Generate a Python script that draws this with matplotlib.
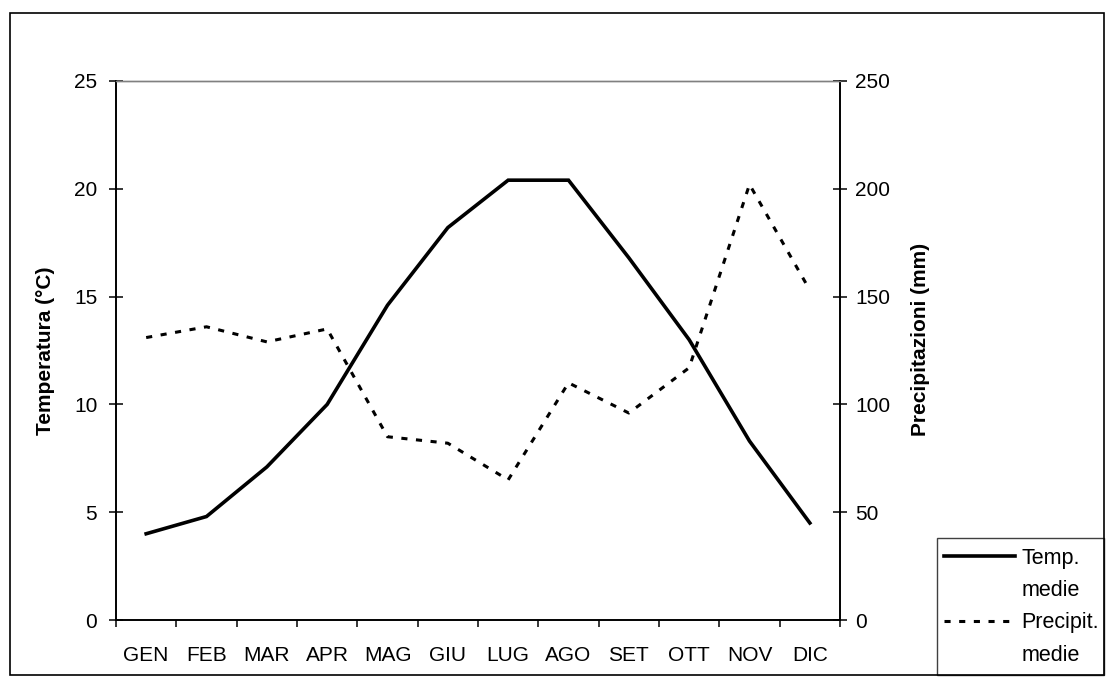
import matplotlib.pyplot as plt
from matplotlib.lines import Line2D
from matplotlib.patches import Rectangle

plt.rcParams['font.family'] = ['Liberation Sans', 'DejaVu Sans']

mesi = ['GEN', 'FEB', 'MAR', 'APR', 'MAG', 'GIU', 'LUG', 'AGO', 'SET', 'OTT', 'NOV', 'DIC']
temp = [4.0, 4.8, 7.1, 10.0, 14.6, 18.2, 20.4, 20.4, 16.8, 13.0, 8.3, 4.5]
prec = [131, 136, 129, 135, 85, 82, 65, 110, 96, 117, 202, 153]

W, H = 1110, 680
FS = 15
fig = plt.figure(figsize=(W / 100, H / 100), dpi=100)
# area del grafico in pixel: x 116-840, y 81-620
ax = fig.add_axes([116 / W, 1 - 620 / H, (840 - 116) / W, (620 - 81) / H])
ax2 = ax.twinx()

x = list(range(len(mesi)))
l1, = ax.plot(x, temp, color='black', lw=2.6, solid_joinstyle='miter')
l2, = ax2.plot(x, prec, color='black', lw=2.2, linestyle=(0, (2, 2.8)))

ax.set_xlim(-0.5, 11.5)
ax.set_ylim(0, 25)
ax2.set_ylim(0, 250)
ax.set_yticks(range(0, 26, 5))
ax2.set_yticks(range(0, 251, 50))

# tacche tra i mesi, etichette al centro
ax.set_xticks([i - 0.5 for i in range(13)])
ax.set_xticklabels([])
ax.set_xticks(x, minor=True)
ax.set_xticklabels(mesi, minor=True)
ax.tick_params(axis='x', which='minor', length=0, pad=19, labelsize=FS)
ax.tick_params(axis='x', which='major', direction='out', length=5, width=1.1)
ax.tick_params(axis='y', direction='inout', length=10, width=1.1, labelsize=FS, pad=8.5)
ax2.tick_params(axis='y', direction='inout', length=10, width=1.1, labelsize=FS, pad=6)

for a in (ax, ax2):
    a.spines['top'].set_color('#808080')
    a.spines['top'].set_linewidth(1.0)
    for s in ('left', 'right', 'bottom'):
        a.spines[s].set_linewidth(1.2)

ax.set_ylabel('Temperatura (°C)', fontsize=FS, fontweight='bold')
ax2.set_ylabel('Precipitazioni (mm)', fontsize=FS, fontweight='bold')
ax.yaxis.set_label_coords((46 - 116) / (840 - 116), 0.5)
ax2.yaxis.set_label_coords((921 - 116) / (840 - 116), 0.52)
ax.yaxis.label.set_va('center')
ax2.yaxis.label.set_va('center')

# legenda: una voce per riga, la linea accanto alla prima riga
vuoto = Line2D([], [], color='none')
fig.legend([l1, vuoto, l2, vuoto], ['Temp.', 'medie', 'Precipit.', 'medie'],
           loc='upper left', bbox_to_anchor=(944 / W, 1 - 548 / H),
           fontsize=FS + 0.5, frameon=False, handlelength=3.3, handletextpad=0.3,
           borderpad=0, borderaxespad=0, labelspacing=0.52)
fig.patches.append(Rectangle((937 / W, 1 - 675 / H), (1104 - 937) / W, (675 - 538) / H,
                             transform=fig.transFigure, fill=False,
                             edgecolor='#404040', lw=1.0))

# cornice esterna
fig.patches.append(Rectangle((10 / W, 1 - 675 / H), (1104 - 10) / W, (675 - 13) / H,
                             transform=fig.transFigure, fill=False,
                             edgecolor='black', lw=1.2))

fig.savefig('out.png', dpi=100)
